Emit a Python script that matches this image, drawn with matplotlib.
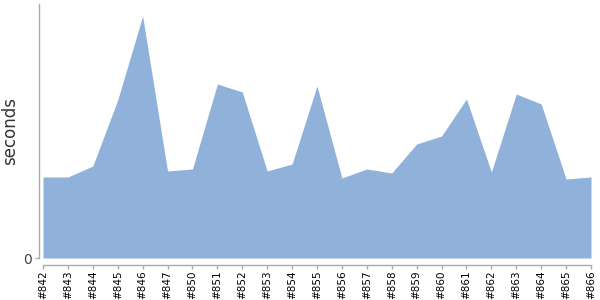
import matplotlib
matplotlib.use('Agg')
from matplotlib import pyplot as plt

# Build labels and durations
builds = ['#842', '#843', '#844', '#845', '#846', '#847', '#850', '#851',
          '#852', '#853', '#854', '#855', '#856', '#857', '#858', '#859',
          '#860', '#861', '#862', '#863', '#864', '#865', '#866']
durations = [81, 81, 92, 158, 242, 87, 89, 174, 166, 87, 94, 172,
             80, 89, 85, 114, 122, 159, 86, 164, 154, 79, 81]

fill_color = '#8fb1da'
axis_color = '#aaaaaa'


def main():
    fig = plt.figure(figsize=(6, 3), dpi=100)
    ax = fig.add_axes([43 / 600, 42 / 300, 548 / 600, 254 / 300])

    x = list(range(len(builds)))
    ax.fill_between(x, 0, durations, color=fill_color, linewidth=0)

    ax.set_xlim(0, len(builds) - 1)
    ax.set_ylim(0, 254)

    # Axes styling
    for side in ['top', 'right']:
        ax.spines[side].set_visible(False)
    ax.spines['left'].set_position(('outward', 3))
    ax.spines['bottom'].set_position(('outward', 5))
    for side in ['left', 'bottom']:
        ax.spines[side].set_color(axis_color)
        ax.spines[side].set_linewidth(1)

    ax.set_xticks(x)
    ax.set_xticklabels(builds, rotation=90, fontsize=7.5)
    ax.set_yticks([0])
    ax.set_yticklabels(['0'], fontsize=10)
    ax.tick_params(axis='both', colors=axis_color, length=3, width=1)
    ax.tick_params(axis='x', pad=1)
    ax.tick_params(axis='y', pad=2)
    for lbl in ax.get_xticklabels():
        lbl.set_color('black')
    for lbl in ax.get_yticklabels():
        lbl.set_color('#444444')

    ax.set_ylabel('seconds', fontsize=12, color='#333333')
    ax.yaxis.set_label_coords(-0.043, 0.5)

    fig.savefig('out.png', dpi=100)


# Only if this file is run directly
if __name__ == '__main__':
    main()
